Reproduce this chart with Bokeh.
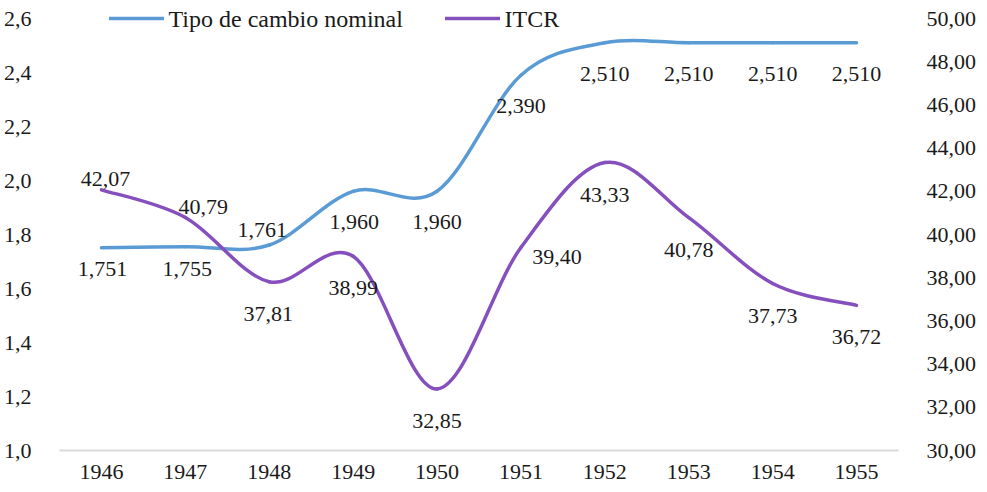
import numpy as np
from bokeh.plotting import figure
from bokeh.models import (Range1d, LinearAxis, FixedTicker, ColumnDataSource,
                          Legend, LegendItem, Label)
from bokeh.core.properties import value
from bokeh.embed import file_html
from bokeh.resources import INLINE

# ---- data ----
years = ["1946", "1947", "1948", "1949", "1950", "1951", "1952", "1953", "1954", "1955"]
tipo_cambio = [1.751, 1.755, 1.761, 1.960, 1.960, 2.390, 2.510, 2.510, 2.510, 2.510]
itcr = [42.07, 40.79, 37.81, 38.99, 32.85, 39.40, 43.33, 40.78, 37.73, 36.72]
tc_labels = ["1,751", "1,755", "1,761", "1,960", "1,960", "2,390", "2,510", "2,510", "2,510", "2,510"]
itcr_labels = ["42,07", "40,79", "37,81", "38,99", "32,85", "39,40", "43,33", "40,78", "37,73", "36,72"]
left_ticks = [1.0, 1.2, 1.4, 1.6, 1.8, 2.0, 2.2, 2.4, 2.6]
right_ticks = [30, 32, 34, 36, 38, 40, 42, 44, 46, 48, 50]
series_names = ["Tipo de cambio nominal", "ITCR"]

# ---- label placement (screen px, style only) ----
tc_dx = [1, 2, -7, 1, 0, 0, 0, 0, 0, 0]
tc_dy = [21, 22, -15, 31, 31, 31, 31, 31, 31, 31]
itcr_dx = [4, 18, -1, 0, 0, 36, 0, 0, 0, 0]
itcr_dy = [-11, -10, 32, 32, 32, 10, 32, 32, 32, 32]

FONT = "Liberation Serif"
FS = "22px"
TXT = "#1a1a1a"
BLUE = "#5B9BD5"
PURPLE = "#8550BD"

xs = np.arange(len(years), dtype=float)


def smooth_segments(x, y):
    """Catmull-Rom (Excel-like smoothing) control points as cubic Bezier segments."""
    y = np.asarray(y, dtype=float)
    n = len(y)
    xp = np.concatenate([[x[0]], x, [x[-1]]])
    yp = np.concatenate([[y[0]], y, [y[-1]]])
    d = dict(x0=[], y0=[], x1=[], y1=[], cx0=[], cy0=[], cx1=[], cy1=[])
    for i in range(n - 1):
        p0x, p0y = xp[i], yp[i]
        p1x, p1y = xp[i + 1], yp[i + 1]
        p2x, p2y = xp[i + 2], yp[i + 2]
        p3x, p3y = xp[i + 3], yp[i + 3]
        d["x0"].append(p1x); d["y0"].append(p1y)
        d["x1"].append(p2x); d["y1"].append(p2y)
        d["cx0"].append(p1x + (p2x - p0x) / 6.0)
        d["cy0"].append(p1y + (p2y - p0y) / 6.0)
        d["cx1"].append(p2x - (p3x - p1x) / 6.0)
        d["cy1"].append(p2y - (p3y - p1y) / 6.0)
    return ColumnDataSource(d)


W, H = 979, 486
FRAME_TOP, AXIS_TOP, FRAME_BOTTOM = 6, 18, 450
# extra head-room above the top tick so the legend (which straddles it) is not clipped
pad = (AXIS_TOP - FRAME_TOP) / (FRAME_BOTTOM - AXIS_TOP)
l_lo, l_hi = left_ticks[0], left_ticks[-1]
r_lo, r_hi = right_ticks[0], right_ticks[-1]

p = figure(width=W, height=H, output_backend="svg", toolbar_location=None,
           x_range=Range1d(-0.5, len(years) - 0.5),
           y_range=Range1d(l_lo, l_hi + (l_hi - l_lo) * pad),
           min_border_left=57, min_border_right=W - 903, min_border_top=FRAME_TOP,
           min_border_bottom=H - FRAME_BOTTOM)
p.outline_line_color = None
p.grid.visible = False
p.background_fill_color = "white"
p.border_fill_color = "white"

p.extra_y_ranges = {"r": Range1d(r_lo, r_hi + (r_hi - r_lo) * pad)}

# x axis
xa = p.xaxis[0]
xa.ticker = FixedTicker(ticks=list(xs))
xa.major_label_overrides = {i: y for i, y in enumerate(years)}
xa.axis_line_color = "#D9D9D9"
xa.axis_line_width = 2
xa.major_tick_line_color = None
xa.minor_tick_line_color = None
xa.major_label_standoff = 8
xa.major_label_text_font = FONT
xa.major_label_text_font_size = FS
xa.major_label_text_color = TXT

# left y axis
ya = p.yaxis[0]
ya.ticker = FixedTicker(ticks=left_ticks)
ya.major_label_overrides = {t: f"{t:.1f}".replace(".", ",") for t in left_ticks}
ya.axis_line_color = None
ya.major_tick_line_color = None
ya.minor_tick_line_color = None
ya.major_label_standoff = 22
ya.major_label_text_font = FONT
ya.major_label_text_font_size = FS
ya.major_label_text_color = TXT

# right y axis
ra = LinearAxis(y_range_name="r", ticker=FixedTicker(ticks=right_ticks))
ra.major_label_overrides = {t: f"{t:.2f}".replace(".", ",") for t in right_ticks}
ra.axis_line_color = None
ra.major_tick_line_color = None
ra.minor_tick_line_color = None
ra.major_label_standoff = 22
ra.major_label_text_font = FONT
ra.major_label_text_font_size = FS
ra.major_label_text_color = TXT
p.add_layout(ra, "right")

# smoothed lines
src_tc = smooth_segments(xs, tipo_cambio)
src_it = smooth_segments(xs, itcr)
p.bezier(x0="x0", y0="y0", x1="x1", y1="y1", cx0="cx0", cy0="cy0", cx1="cx1", cy1="cy1",
         source=src_tc, line_color=BLUE, line_width=3.5, line_cap="round")
p.bezier(x0="x0", y0="y0", x1="x1", y1="y1", cx0="cx0", cy0="cy0", cx1="cx1", cy1="cy1",
         source=src_it, line_color=PURPLE, line_width=3.5, line_cap="round", y_range_name="r")

# data labels
lab_tc = ColumnDataSource(dict(x=xs, y=tipo_cambio, t=tc_labels, dx=tc_dx, dy=tc_dy))
lab_it = ColumnDataSource(dict(x=xs, y=itcr, t=itcr_labels, dx=itcr_dx, dy=itcr_dy))
p.text(x="x", y="y", text="t", x_offset="dx", y_offset="dy", source=lab_tc,
       text_font=value(FONT), text_font_size=FS, text_color=TXT,
       text_align="center", text_baseline="middle")
p.text(x="x", y="y", text="t", x_offset="dx", y_offset="dy", source=lab_it,
       text_font=value(FONT), text_font_size=FS, text_color=TXT,
       text_align="center", text_baseline="middle", y_range_name="r")

# legend: line keys through a Legend, names as serif Labels beside them
nan = float("nan")
lg1 = p.line(x=[0, 1], y=[nan, nan], line_color=BLUE, line_width=3.5, line_cap="round")
lg2 = p.line(x=[0, 1], y=[nan, nan], line_color=PURPLE, line_width=3.5, line_cap="round")

legend_y = FRAME_BOTTOM - AXIS_TOP  # legend centred on the top tick row


def make_key(rend, xloc):
    return Legend(items=[LegendItem(label=" ", renderers=[rend])],
                  orientation="horizontal", location=(xloc, legend_y - 10),
                  border_line_color=None, background_fill_alpha=0,
                  padding=0, margin=0, spacing=0, glyph_width=55, glyph_height=20,
                  label_height=20, label_width=1, label_standoff=0,
                  label_text_font_size="1px", label_text_alpha=0)


for name, rend, kx in zip(series_names, [lg1, lg2], [50, 386]):
    p.add_layout(make_key(rend, kx))
    p.add_layout(Label(x=kx + 59, y=legend_y, x_units="screen", y_units="screen",
                       text=name, text_font=FONT, text_font_size="24px",
                       text_color=TXT, text_align="left", text_baseline="middle"))

open("out.html", "w").write(file_html(p, INLINE))
